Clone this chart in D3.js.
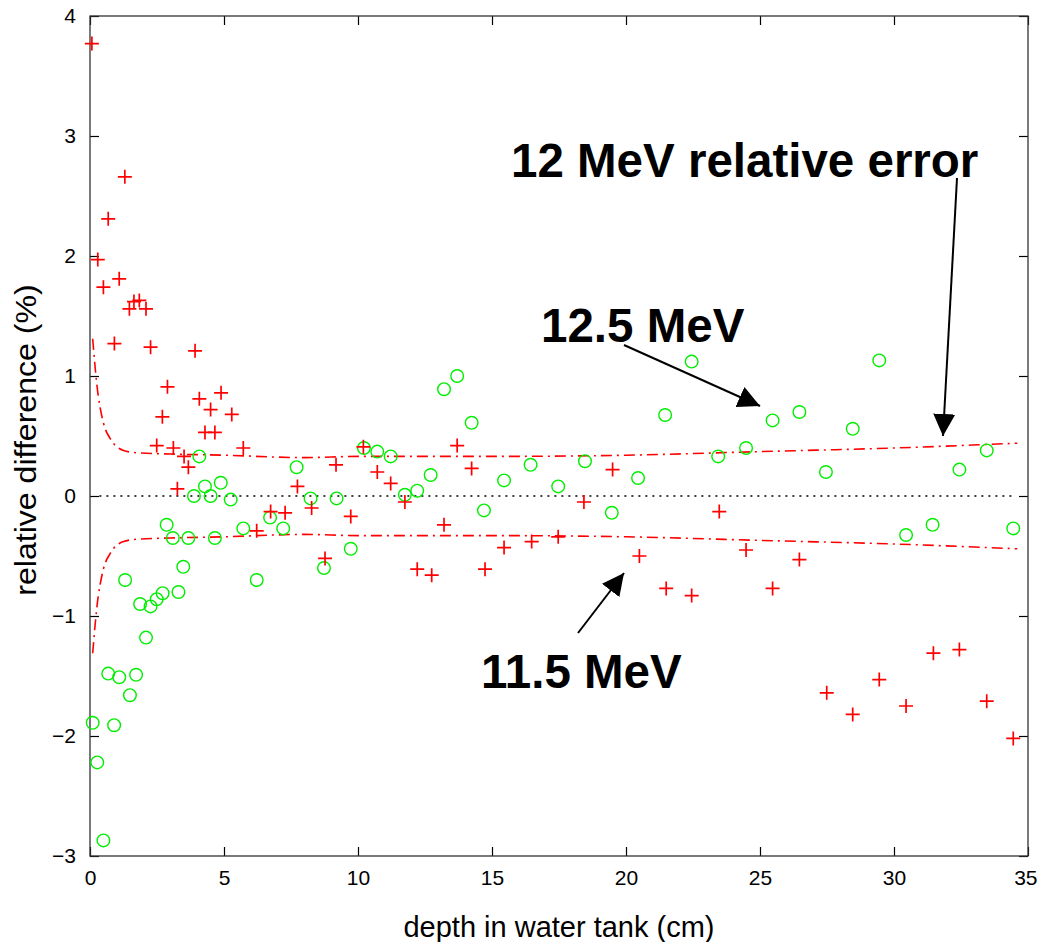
<!DOCTYPE html>
<html>
<head>
<meta charset="utf-8">
<script src="https://cdn.jsdelivr.net/npm/d3@7"></script>
<style>
  body { margin: 0; background: #fff; }
  text { font-family: "Liberation Sans", Arial, sans-serif; }
</style>
</head>
<body>
<div id="chart"></div>
<script>
// 11.5 MeV (red +)
const depth115 = [0.07, 1.3, 0.68, 0.29, 0.5, 1.09, 1.47, 1.64, 1.84, 2.09, 0.91, 2.26, 3.92, 2.89, 4.08, 4.89, 4.5, 5.29, 2.7, 4.29, 4.66, 2.49, 3.11, 3.51, 3.67, 5.72, 3.26, 7.74, 9.18, 8.27, 6.74, 7.28, 9.73, 6.22, 8.77, 10.2, 10.72, 11.22, 11.75, 13.21, 13.7, 14.24, 12.21, 12.75, 14.74, 15.45, 16.48, 17.47, 18.43, 19.5, 20.5, 21.5, 22.45, 23.48, 24.48, 25.47, 26.47, 27.49, 28.46, 29.45, 30.45, 31.47, 32.44, 33.46, 34.45];
const diff115 = [3.77, 2.66, 2.31, 1.97, 1.74, 1.81, 1.56, 1.62, 1.63, 1.56, 1.27, 1.24, 1.21, 0.91, 0.81, 0.86, 0.72, 0.68, 0.66, 0.53, 0.53, 0.42, 0.40, 0.33, 0.24, 0.40, 0.06, 0.08, 0.26, -0.10, -0.13, -0.14, -0.17, -0.29, -0.52, 0.41, 0.20, 0.105, -0.05, -0.24, 0.42, 0.23, -0.61, -0.66, -0.61, -0.43, -0.38, -0.34, -0.05, 0.22, -0.5, -0.77, -0.83, -0.13, -0.45, -0.77, -0.53, -1.64, -1.82, -1.53, -1.75, -1.31, -1.28, -1.71, -2.02];

// 12.5 MeV (green o)
const depth125 = [4.08, 7.71, 10.22, 4.29, 4.88, 3.88, 4.5, 5.25, 8.23, 9.2, 6.72, 7.21, 2.86, 3.09, 3.67, 4.66, 5.72, 9.73, 3.48, 8.73, 1.31, 6.22, 3.3, 2.71, 2.49, 2.26, 1.87, 2.09, 0.68, 1.09, 1.72, 1.49, 0.1, 0.9, 0.27, 0.5, 10.72, 11.22, 12.71, 12.21, 11.75, 13.21, 13.7, 14.24, 14.7, 15.45, 16.44, 17.47, 18.47, 19.47, 20.45, 21.46, 22.45, 23.44, 24.48, 25.47, 26.47, 27.46, 28.46, 29.45, 30.45, 31.44, 32.44, 33.46, 34.45];
const diff125 = [0.33, 0.24, 0.40, 0.08, 0.11, 0.0, 0.0, -0.03, -0.02, -0.02, -0.18, -0.27, -0.24, -0.35, -0.35, -0.35, -0.27, -0.44, -0.59, -0.60, -0.70, -0.70, -0.80, -0.81, -0.86, -0.92, -0.90, -1.18, -1.48, -1.51, -1.49, -1.66, -1.89, -1.91, -2.22, -2.87, 0.37, 0.33, 0.175, 0.044, 0.01, 0.89, 1.0, 0.61, -0.12, 0.13, 0.26, 0.08, 0.29, -0.14, 0.15, 0.675, 1.12, 0.33, 0.40, 0.63, 0.70, 0.20, 0.56, 1.13, -0.325, -0.24, 0.22, 0.38, -0.27];

// 12 MeV relative error (upper band, lower band is its negative)
const errDepth = [0.1, 0.25, 0.5, 0.75, 1.25, 1.75, 3, 5, 8, 10, 15, 20, 25, 30, 34.6];
const errValue = [1.31, 0.94, 0.61, 0.48, 0.38, 0.36, 0.35, 0.34, 0.32, 0.33, 0.33, 0.34, 0.37, 0.40, 0.44];

const xTicks = [0, 5, 10, 15, 20, 25, 30, 35];
const yTicks = [-3, -2, -1, 0, 1, 2, 3, 4];

const W = 1037, H = 942;
const m = {left: 90, right: 1028, top: 16, bottom: 856};

const svg = d3.select("#chart").append("svg")
  .attr("width", W).attr("height", H);

const x = d3.scaleLinear().domain([0, 35]).range([m.left, m.right]);
const y = d3.scaleLinear().domain([-3, 4]).range([m.bottom, m.top]);

// axes box with inward ticks
const tk = 9;
svg.append("g").attr("transform", `translate(0,${m.bottom})`)
  .call(d3.axisBottom(x).tickValues(xTicks).tickSize(-tk).tickPadding(14).tickFormat(d3.format("d")))
  .call(g => g.select(".domain").remove())
  .call(g => g.selectAll(".tick text").filter(d => d === 35).attr("text-anchor", "end").attr("dx", 9));
svg.append("g").attr("transform", `translate(0,${m.top})`)
  .call(d3.axisTop(x).tickValues(xTicks).tickSize(-tk).tickFormat(""))
  .call(g => g.select(".domain").remove());
svg.append("g").attr("transform", `translate(${m.left},0)`)
  .call(d3.axisLeft(y).tickValues(yTicks).tickSize(-tk).tickPadding(14).tickFormat(d3.format("d")))
  .call(g => g.select(".domain").remove());
svg.append("g").attr("transform", `translate(${m.right},0)`)
  .call(d3.axisRight(y).tickValues(yTicks).tickSize(-tk).tickFormat(""))
  .call(g => g.select(".domain").remove());

svg.selectAll(".tick line").attr("stroke", "#000").attr("stroke-width", 1.2);
svg.selectAll(".tick text")
  .attr("font-size", 21).attr("fill", "#000")
  .attr("font-family", "'Liberation Sans', Arial, sans-serif");

svg.append("rect")
  .attr("x", m.left).attr("y", m.top)
  .attr("width", m.right - m.left).attr("height", m.bottom - m.top)
  .attr("fill", "none").attr("stroke", "#333").attr("stroke-width", 1.3);

// zero line
svg.append("line")
  .attr("x1", x(0.35)).attr("x2", x(34.5))
  .attr("y1", y(0)).attr("y2", y(0))
  .attr("stroke", "#000").attr("stroke-width", 1.5)
  .attr("stroke-dasharray", "2,5");

// error band
const band = errDepth.map((d, i) => ({x: d, v: errValue[i]}));
const line = d3.line().x(d => x(d.x)).curve(d3.curveMonotoneX);
[1, -1].forEach(s => {
  svg.append("path")
    .datum(band)
    .attr("d", line.y(d => y(s * d.v)))
    .attr("fill", "none")
    .attr("stroke", "#ff0000")
    .attr("stroke-width", 1.6)
    .attr("stroke-dasharray", "11,5,2,5");
});

// 12.5 MeV circles
svg.append("g").selectAll("circle")
  .data(depth125.map((d, i) => [d, diff125[i]]))
  .join("circle")
  .attr("cx", d => x(d[0])).attr("cy", d => y(d[1]))
  .attr("r", 6.3)
  .attr("fill", "none").attr("stroke", "#00ee00").attr("stroke-width", 1.4);

// 11.5 MeV pluses
const ps = 7;
svg.append("g").selectAll("path")
  .data(depth115.map((d, i) => [d, diff115[i]]))
  .join("path")
  .attr("d", d => {
    const cx = x(d[0]), cy = y(d[1]);
    return `M${cx - ps},${cy}H${cx + ps}M${cx},${cy - ps}V${cy + ps}`;
  })
  .attr("stroke", "#ff0000").attr("stroke-width", 1.7).attr("fill", "none");

// axis labels
svg.append("text")
  .attr("x", 559).attr("y", 937)
  .attr("text-anchor", "middle")
  .attr("font-size", 29)
  .text("depth in water tank (cm)");

svg.append("text")
  .attr("transform", "translate(36,440) scale(1,1.07) rotate(-90)")
  .attr("text-anchor", "middle")
  .attr("font-size", 30)
  .text("relative difference (%)");

// annotations
svg.append("defs").append("marker")
  .attr("id", "head")
  .attr("viewBox", "0 0 10 10")
  .attr("refX", 10).attr("refY", 5)
  .attr("markerWidth", 22).attr("markerHeight", 22)
  .attr("markerUnits", "userSpaceOnUse")
  .attr("orient", "auto")
  .append("path").attr("d", "M0,0L10,5L0,10Z").attr("fill", "#000");

const notes = [
  {t: "12 MeV relative error", tx: 511, ty: 177, x1: 957, y1: 178, x2: 943, y2: 436},
  {t: "12.5 MeV", tx: 541, ty: 342, x1: 624, y1: 345, x2: 760, y2: 406},
  {t: "11.5 MeV", tx: 481, ty: 688, x1: 578, y1: 633, x2: 624, y2: 573}
];
notes.forEach(n => {
  svg.append("text")
    .attr("x", n.tx).attr("y", n.ty)
    .attr("font-size", 47.5).attr("font-weight", "bold")
    .text(n.t);
  svg.append("line")
    .attr("x1", n.x1).attr("y1", n.y1).attr("x2", n.x2).attr("y2", n.y2)
    .attr("stroke", "#000").attr("stroke-width", 2)
    .attr("marker-end", "url(#head)");
});
</script>
</body>
</html>
